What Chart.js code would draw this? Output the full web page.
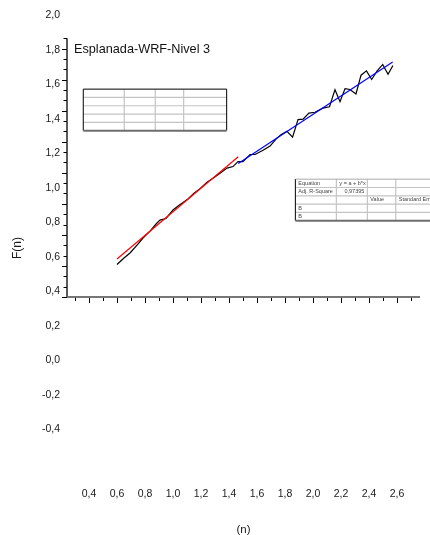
<!DOCTYPE html>
<html>
<head>
<meta charset="utf-8">
<script src="https://cdn.jsdelivr.net/npm/chart.js@4.4.1/dist/chart.umd.min.js"></script>
<style>
  html, body { margin: 0; padding: 0; background: #fff; }
</style>
</head>
<body>
<canvas id="fnChart" width="430" height="535"></canvas>
<script>
// F(n) versus n
const nValues = [
  0.6, 0.65, 0.693, 0.743, 0.786, 0.836, 0.879, 0.907, 0.95, 1.0,
  1.036, 1.064, 1.107, 1.15, 1.193, 1.243, 1.286, 1.336, 1.386, 1.429,
  1.464, 1.5, 1.55, 1.586, 1.643, 1.693, 1.736, 1.771, 1.814, 1.854,
  1.893, 1.929, 1.971, 2.014, 2.071, 2.118, 2.157, 2.193, 2.229, 2.264,
  2.307, 2.343, 2.382, 2.419, 2.457, 2.498, 2.536, 2.571
];
const fValues = [
  0.588, 0.626, 0.655, 0.701, 0.742, 0.782, 0.823, 0.846, 0.855, 0.904,
  0.927, 0.944, 0.968, 1.002, 1.028, 1.066, 1.089, 1.118, 1.147, 1.156,
  1.185, 1.185, 1.226, 1.226, 1.251, 1.275, 1.315, 1.341, 1.361, 1.327,
  1.428, 1.431, 1.466, 1.471, 1.495, 1.503, 1.602, 1.532, 1.608, 1.603,
  1.577, 1.686, 1.711, 1.661, 1.709, 1.748, 1.691, 1.742
];
// linear fits (red: low n, blue: high n)
const fitLowN = [0.6, 1.466];
const fitLowF = [0.62, 1.213];
const fitHighN = [1.466, 2.569];
const fitHighF = [1.174, 1.763];

const xTickValues = [0.4, 0.6, 0.8, 1.0, 1.2, 1.4, 1.6, 1.8, 2.0, 2.2, 2.4, 2.6];
const yTickValues = [-0.4, -0.2, 0.0, 0.2, 0.4, 0.6, 0.8, 1.0, 1.2, 1.4, 1.6, 1.8, 2.0];

const chartTitle = 'Esplanada-WRF-Nivel 3';
const fitTable = [
  ['Equation', 'y = a + b*x', '', ''],
  ['Adj. R-Square', '0,97395', '', ''],
  ['', '', 'Value', 'Standard Error'],
  ['B', '', '', ''],
  ['B', '', '', '']
];

const FONT = '"Liberation Sans", Arial, sans-serif';
const comma = (v) => Number(v).toFixed(1).replace('.', ',');

const toPoints = (xs, ys) => xs.map((x, i) => ({ x: x, y: ys[i] }));

// table drawn the way Origin leaves it on the page
const colWidths = [41, 31, 28.4, 43];
const rowH = 8.3;
function drawTable(ctx, left, top, rows, topColor) {
  const width = colWidths.reduce((a, b) => a + b, 0);
  const height = rowH * 5;
  ctx.save();
  ctx.lineWidth = 1.2;
  ctx.strokeStyle = '#c4c4c4';
  ctx.beginPath();
  for (let r = 1; r < 5; r++) {
    ctx.moveTo(left, top + r * rowH);
    ctx.lineTo(left + width, top + r * rowH);
  }
  let cx = left;
  for (let c = 0; c < 3; c++) {
    cx += colWidths[c];
    ctx.moveTo(cx, top);
    ctx.lineTo(cx, top + height);
  }
  ctx.stroke();
  ctx.lineWidth = 1;
  ctx.strokeStyle = topColor;
  ctx.beginPath();
  ctx.moveTo(left, top);
  ctx.lineTo(left + width, top);
  ctx.stroke();
  ctx.strokeStyle = '#000';
  ctx.beginPath();
  ctx.moveTo(left, top);
  ctx.lineTo(left, top + height);
  ctx.moveTo(left + width, top);
  ctx.lineTo(left + width, top + height);
  ctx.stroke();
  ctx.lineWidth = 2;
  ctx.strokeStyle = '#6e6e6e';
  ctx.beginPath();
  ctx.moveTo(left, top + height);
  ctx.lineTo(left + width, top + height);
  ctx.stroke();
  if (rows) {
    ctx.font = '5.5px ' + FONT;
    ctx.fillStyle = '#444';
    ctx.textBaseline = 'middle';
    rows.forEach((row, r) => {
      let x = left;
      row.forEach((txt, c) => {
        const cy = top + (r + 0.5) * rowH;
        if (txt) {
          if (r === 1 && c === 1) {
            ctx.textAlign = 'right';
            ctx.fillText(txt, x + colWidths[c] - 3, cy);
          } else {
            ctx.textAlign = 'left';
            ctx.fillText(txt, x + 3, cy);
          }
        }
        x += colWidths[c];
      });
    });
  }
  ctx.restore();
}

const axisFrame = {
  id: 'axisFrame',
  beforeDatasetsDraw(chart) {
    const { ctx, chartArea, scales } = chart;
    const x = scales.x;
    const y = scales.y;
    const x0 = chartArea.left;
    const x1 = chartArea.right;
    const yBase = y.getPixelForValue(0.4);
    const yTop = y.getPixelForValue(1.9);
    ctx.save();
    // left axis
    ctx.strokeStyle = '#000';
    ctx.lineWidth = 1.3;
    ctx.beginPath();
    ctx.moveTo(x0, yTop);
    ctx.lineTo(x0, yBase);
    ctx.stroke();
    ctx.lineWidth = 1;
    ctx.beginPath();
    for (let k = 0; k <= 25; k++) {
      const py = Math.round(y.getPixelForValue(0.4 + k * 0.06)) + 0.5;
      ctx.moveTo(x0, py);
      ctx.lineTo(x0 - (k % 3 === 0 ? 5 : 3.5), py);
    }
    ctx.stroke();
    // bottom axis
    ctx.strokeStyle = '#777';
    ctx.lineWidth = 2;
    ctx.beginPath();
    ctx.moveTo(x0, yBase);
    ctx.lineTo(x1, yBase);
    ctx.stroke();
    ctx.strokeStyle = '#000';
    ctx.lineWidth = 1;
    ctx.beginPath();
    for (let k = 3; k <= 27; k++) {
      const px = Math.round(x.getPixelForValue(k / 10)) + 0.5;
      ctx.moveTo(px, yBase + 1);
      ctx.lineTo(px, yBase + (k % 2 === 0 ? 6 : 4));
    }
    ctx.stroke();
    ctx.restore();
  },
  afterDraw(chart) {
    const { ctx, chartArea, scales } = chart;
    const x = scales.x;
    const y = scales.y;
    ctx.save();
    ctx.font = '12.7px ' + FONT;
    ctx.fillStyle = '#111';
    ctx.textBaseline = 'middle';
    ctx.fillText(chartTitle, chartArea.left + 7, y.getPixelForValue(1.832));
    ctx.restore();
    drawTable(ctx, x.getPixelForValue(0.359), y.getPixelForValue(1.605), null, '#000');
    drawTable(ctx, x.getPixelForValue(1.874), y.getPixelForValue(1.083), fitTable, '#aaa');
  }
};

const ctx = document.getElementById('fnChart');
new Chart(ctx, {
  type: 'line',
  data: {
    datasets: [
      {
        data: toPoints(fitLowN, fitLowF),
        borderColor: '#ff0000',
        borderWidth: 1.2,
        pointRadius: 0,
      },
      {
        data: toPoints(fitHighN, fitHighF),
        borderColor: '#0000ff',
        borderWidth: 1.2,
        pointRadius: 0,
      },
      {
        data: toPoints(nValues, fValues),
        borderColor: '#000',
        borderWidth: 1.2,
        pointRadius: 0,
      },
    ],
  },
  options: {
    responsive: false,
    animation: false,
    layout: { padding: { top: 21, right: 10, bottom: 0, left: 0 } },
    plugins: {
      legend: { display: false },
      tooltip: { enabled: false },
    },
    scales: {
      x: {
        type: 'linear',
        min: 0.24286,
        max: 2.76429,
        grid: { display: false, drawTicks: false },
        border: { display: false },
        afterBuildTicks: (scale) => {
          scale.ticks = xTickValues.map((v) => ({ value: v }));
        },
        afterFit: (scale) => {
          scale.height = 60;
        },
        ticks: {
          autoSkip: false,
          maxRotation: 0,
          padding: 13,
          color: '#1a1a1a',
          font: { family: FONT, size: 10.5 },
          callback: (v) => comma(v),
        },
        title: {
          display: true,
          text: '(n)',
          color: '#1a1a1a',
          font: { family: FONT, size: 11.5 },
          padding: { top: 0, bottom: -2 },
        },
      },
      y: {
        type: 'linear',
        min: -0.632,
        max: 2.0,
        grid: { display: false, drawTicks: false },
        border: { display: false },
        afterBuildTicks: (scale) => {
          scale.ticks = yTickValues.map((v) => ({ value: v }));
        },
        afterFit: (scale) => {
          scale.width = 67;
        },
        ticks: {
          padding: 7,
          labelOffset: -5.5,
          color: '#1a1a1a',
          font: { family: FONT, size: 10.5 },
          callback: (v) => comma(v),
        },
        title: {
          display: true,
          text: 'F(n)',
          color: '#1a1a1a',
          font: { family: FONT, size: 12 },
          padding: 10,
        },
      },
    },
  },
  plugins: [axisFrame],
});
</script>
</body>
</html>
